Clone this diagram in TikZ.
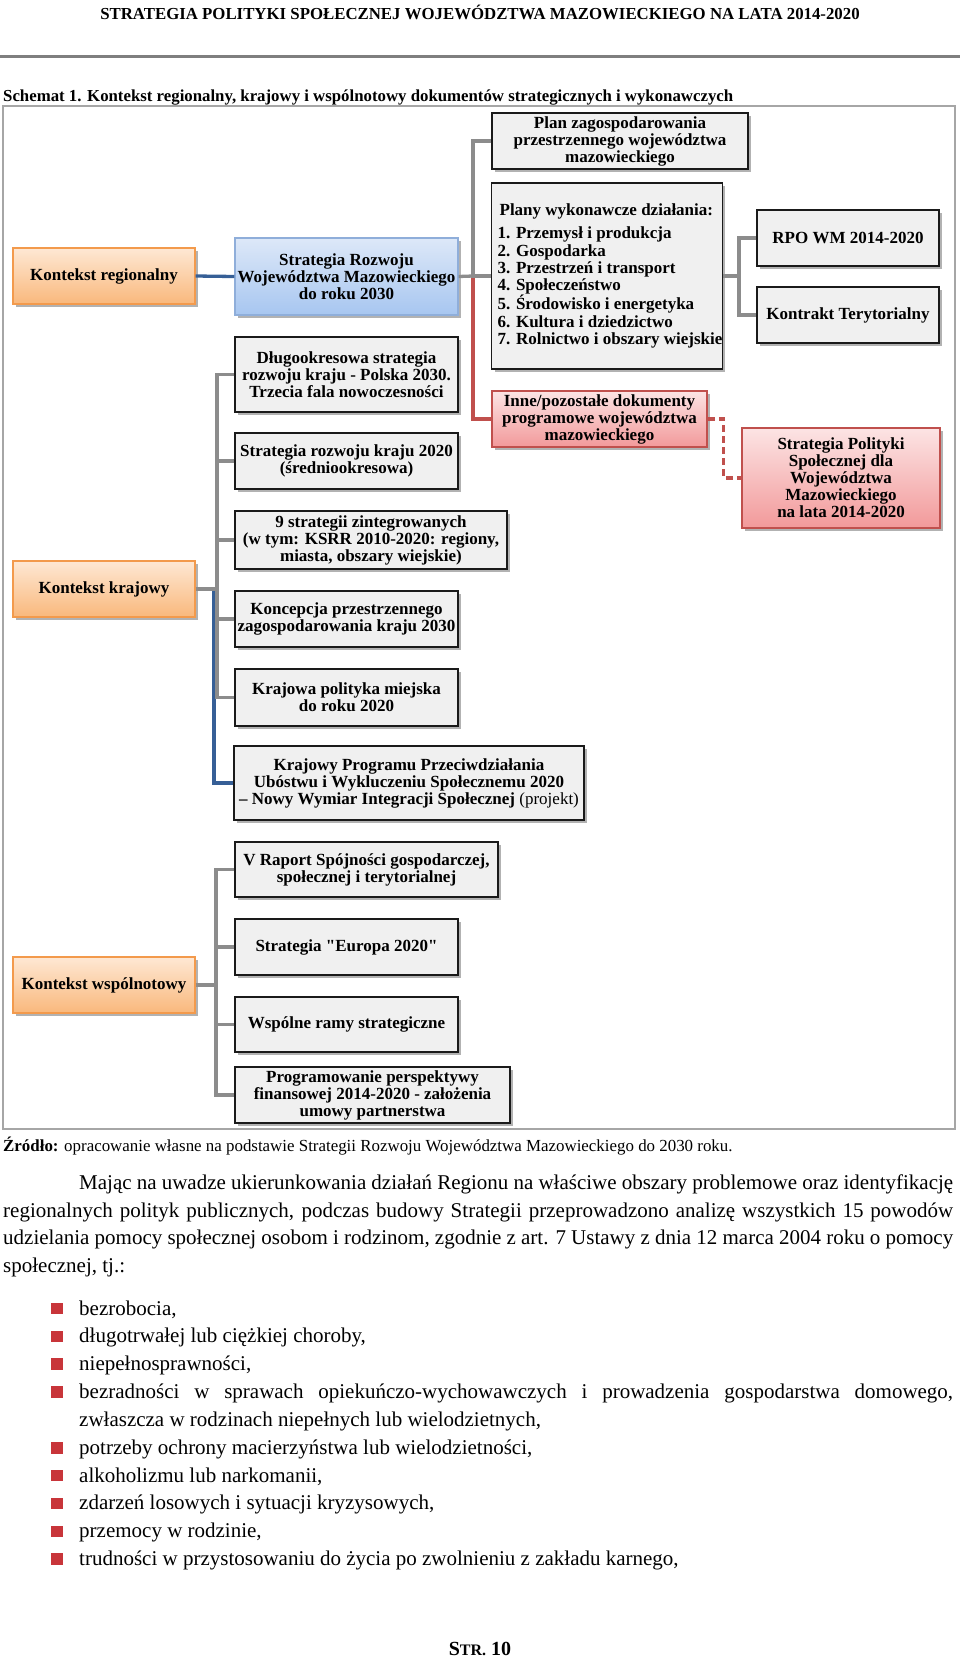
\documentclass[tikz,border=0pt]{standalone}
\usepackage{fontspec}
\setmainfont{Liberation Serif}[Ligatures=TeXOff]
\usetikzlibrary{shadows}
\definecolor{boxgray}{HTML}{F0F0F0}
\definecolor{boxline}{HTML}{1A1A1A}
\definecolor{ortop}{HTML}{FEE8D4}
\definecolor{orbot}{HTML}{F9B87C}
\definecolor{orline}{HTML}{F39A4C}
\definecolor{bltop}{HTML}{DDE8F8}
\definecolor{blbot}{HTML}{A7C6F0}
\definecolor{blline}{HTML}{8FAEDA}
\definecolor{rdtop}{HTML}{FCE4E4}
\definecolor{rdbot}{HTML}{F2999A}
\definecolor{rdline}{HTML}{C0504D}
\definecolor{conngray}{HTML}{8C8C8C}
\definecolor{connblue}{HTML}{365F96}
\definecolor{connred}{HTML}{C0504D}
\definecolor{framegray}{HTML}{A6A6A6}
\definecolor{rulegray}{HTML}{7F7F7F}
\definecolor{bulred}{HTML}{C8353A}
\newcommand\bxfont{\fontsize{17}{17}\selectfont\bfseries}
\newcommand\bodyfont{\fontsize{21}{27.7}\selectfont}
\newcommand\ind{\hspace*{6pt}}
\begin{document}
\begin{tikzpicture}[x=1pt,y=-1pt,
  box/.style={draw, line width=1.2pt, align=center, inner sep=0pt, font=\bxfont,
     drop shadow={shadow xshift=3pt, shadow yshift=-3pt, opacity=0.3, fill=black}},
  graybox/.style={box, draw=boxline, fill=boxgray},
  orbox/.style={box, draw=orline, top color=ortop, bottom color=orbot},
  blbox/.style={box, draw=blline, top color=bltop, bottom color=blbot},
  rdbox/.style={box, draw=rdline, line width=1.6pt, top color=rdtop, bottom color=rdbot},
  gc/.style={draw=conngray, line width=3.3pt},
  bc/.style={draw=connblue, line width=3.3pt},
  rc/.style={draw=connred, line width=3.3pt},
  txt/.style={anchor=base west, inner sep=0pt, font=\bodyfont},
  bul/.style={fill=bulred, minimum size=11.5pt, inner sep=0pt},
]
\useasboundingbox (0,0) rectangle (960,1658);
% header
\node[anchor=base, inner sep=0pt, font=\fontsize{16.8}{17}\selectfont\bfseries] (hdr) at (480,19)
  {STRATEGIA POLITYKI SPOŁECZNEJ WOJEWÓDZTWA MAZOWIECKIEGO NA LATA 2014-2020};
\draw[draw=rulegray, line width=3pt] (0,56) -- (960,56);
\node[anchor=base west, inner sep=0pt, font=\fontsize{16.8}{17}\selectfont\bfseries] (cap) at (3,101)
  {Schemat 1. Kontekst regionalny, krajowy i wspólnotowy dokumentów strategicznych i wykonawczych};
% frame
\draw[draw=framegray, line width=2pt] (3,106) rectangle (955,1129);

% left column
\node[orbox, minimum width=182, minimum height=56] (KR) at (104,276) {Kontekst regionalny};
\node[orbox, minimum width=182, minimum height=56] (KK) at (104,589) {Kontekst krajowy};
\node[orbox, minimum width=182, minimum height=56] (KW) at (104,985) {Kontekst wspólnotowy};

% middle column
\node[blbox, minimum width=223, minimum height=77] (SRWM) at (346.5,276.5) {Strategia Rozwoju\\Województwa Mazowieckiego\\do roku 2030};
\node[graybox, minimum width=223, minimum height=75] (DS) at (346.5,374.5) {Długookresowa strategia\\rozwoju kraju - Polska 2030.\\Trzecia fala nowoczesności};
\node[graybox, minimum width=223, minimum height=56] (SRK) at (346.5,461) {Strategia rozwoju kraju 2020\\(średniookresowa)};
\node[graybox, minimum width=272, minimum height=58] (NS) at (371,540) {9 strategii zintegrowanych\\(w tym: KSRR 2010-2020: regiony,\\miasta, obszary wiejskie)};
\node[graybox, minimum width=223, minimum height=56] (KPZK) at (346.5,619) {Koncepcja przestrzennego\\zagospodarowania kraju 2030};
\node[graybox, minimum width=223, minimum height=57] (KPM) at (346.5,697.5) {Krajowa polityka miejska\\do roku 2020};
\node[graybox, minimum width=350, minimum height=74] (KPP) at (409,783) {Krajowy Programu Przeciwdziałania\\Ubóstwu i Wykluczeniu Społecznemu 2020\\– Nowy Wymiar Integracji Społecznej {\mdseries (projekt)}};
\node[graybox, minimum width=263, minimum height=55] (VR) at (366.5,869.5) {V Raport Spójności gospodarczej,\\społecznej i terytorialnej};
\node[graybox, minimum width=223, minimum height=56] (SE) at (346.5,947) {Strategia "Europa 2020"};
\node[graybox, minimum width=223, minimum height=55] (WRS) at (346.5,1024.5) {Wspólne ramy strategiczne};
\node[graybox, minimum width=275, minimum height=56] (PP) at (372.5,1095) {Programowanie perspektywy\\finansowej 2014-2020 - założenia\\umowy partnerstwa};

% right part
\node[graybox, minimum width=256, minimum height=56] (PZ) at (620,141) {Plan zagospodarowania\\przestrzennego województwa\\mazowieckiego};
\node[graybox, minimum width=230, minimum height=186, align=left, font=\fontsize{17}{17.3}\selectfont\bfseries] (PW) at (607,276)
  {\ind\hspace*{2pt}Plany wykonawcze działania:\\[6pt]\ind 1. Przemysł i produkcja\\\ind 2. Gospodarka\\\ind 3. Przestrzeń i transport\\\ind 4. Społeczeństwo\\\ind 5. Środowisko i energetyka\\\ind 6. Kultura i dziedzictwo\\\ind 7. Rolnictwo i obszary wiejskie};
\node[graybox, minimum width=182, minimum height=56] (RPO) at (848,238) {RPO WM 2014-2020};
\node[graybox, minimum width=182, minimum height=56] (KT) at (848,315) {Kontrakt Terytorialny};
\node[rdbox, minimum width=215, minimum height=56] (IN) at (599.5,419) {Inne/pozostałe dokumenty\\programowe województwa\\mazowieckiego};
\node[rdbox, minimum width=198, minimum height=100] (SPS) at (841,478) {Strategia Polityki\\Społecznej dla\\Województwa\\Mazowieckiego\\na lata 2014-2020};

% connectors: regional
\coordinate (j1) at (473,276);
\coordinate (j2) at (739,276);
\draw[bc] (KR.east) -- (SRWM.west);
\draw[rc] (j1) |- (IN.west);
\draw[gc] (SRWM.east) -- (j1);
\draw[gc] (PZ.west) -| (j1) -- (PW.west);
\draw[rc, dash pattern=on 7pt off 4pt] (IN.east) -- ++(16,0) |- (SPS.west);
\draw[gc] (PW.east) -- (j2);
\draw[gc] (RPO.west) -| (j2) |- (KT.west);

% connectors: national
\coordinate (j3) at (217,589);
\coordinate (j3b) at (214,589);
\draw[bc] (j3b) |- (KPP.west);
\draw[gc] (KK.east) -- (j3);
\draw[gc] (DS.west) -| (j3) |- (KPM.west);
\draw[gc] (SRK.west) -- (SRK.west -| j3);
\draw[gc] (NS.west) -- (NS.west -| j3);
\draw[gc] (KPZK.west) -- (KPZK.west -| j3);

% connectors: community
\coordinate (j4) at (216,985);
\draw[gc] (KW.east) -- (j4);
\draw[gc] (VR.west) -| (j4) |- (PP.west);
\draw[gc] (SE.west) -- (SE.west -| j4);
\draw[gc] (WRS.west) -- (WRS.west -| j4);

% source
\node[anchor=base west, inner sep=0pt, font=\fontsize{16.9}{17}\selectfont] (src) at (3,1151)
  {\textbf{Źródło:} opracowanie własne na podstawie Strategii Rozwoju Województwa Mazowieckiego do 2030 roku.};

% paragraph
\node[txt] (p1) at (79,1189.5) {\makebox[874pt][s]{Mając na uwadze ukierunkowania działań Regionu na właściwe obszary problemowe oraz identyfikację}};
\node[txt] (p2) at (3,1217.2) {\makebox[950pt][s]{regionalnych polityk publicznych, podczas budowy Strategii przeprowadzono analizę wszystkich 15 powodów}};
\node[txt] (p3) at (3,1244.9) {\makebox[950pt][s]{udzielania pomocy społecznej osobom i rodzinom, zgodnie z art. 7 Ustawy z dnia 12 marca 2004 roku o pomocy}};
\node[txt] (p4) at (3,1272.6) {społecznej, tj.:};

% bullets
\node[bul] (b1) at (57,1308.5) {};
\node[txt] (t1) at (79,1315) {bezrobocia,};
\node[bul] (b2) at (57,1336.35) {};
\node[txt] (t2) at (79,1342.85) {długotrwałej lub ciężkiej choroby,};
\node[bul] (b3) at (57,1364.2) {};
\node[txt] (t3) at (79,1370.7) {niepełnosprawności,};
\node[bul] (b4) at (57,1392.05) {};
\node[txt] (t4) at (79,1398.55) {\makebox[874pt][s]{bezradności w sprawach opiekuńczo-wychowawczych i prowadzenia gospodarstwa domowego,}};
\node[txt] (t4b) at (79,1426.4) {zwłaszcza w rodzinach niepełnych lub wielodzietnych,};
\node[bul] (b5) at (57,1447.75) {};
\node[txt] (t5) at (79,1454.25) {potrzeby ochrony macierzyństwa lub wielodzietności,};
\node[bul] (b6) at (57,1475.6) {};
\node[txt] (t6) at (79,1482.1) {alkoholizmu lub narkomanii,};
\node[bul] (b7) at (57,1503.45) {};
\node[txt] (t7) at (79,1509.95) {zdarzeń losowych i sytuacji kryzysowych,};
\node[bul] (b8) at (57,1531.3) {};
\node[txt] (t8) at (79,1537.8) {przemocy w rodzinie,};
\node[bul] (b9) at (57,1559.15) {};
\node[txt] (t9) at (79,1565.65) {trudności w przystosowaniu do życia po zwolnieniu z zakładu karnego,};

% page number
\node[anchor=base, inner sep=0pt, font=\fontsize{20}{20}\selectfont\bfseries] (pg) at (480,1655)
  {S{\fontsize{16}{16}\selectfont TR.} 10};
\end{tikzpicture}
\end{document}
